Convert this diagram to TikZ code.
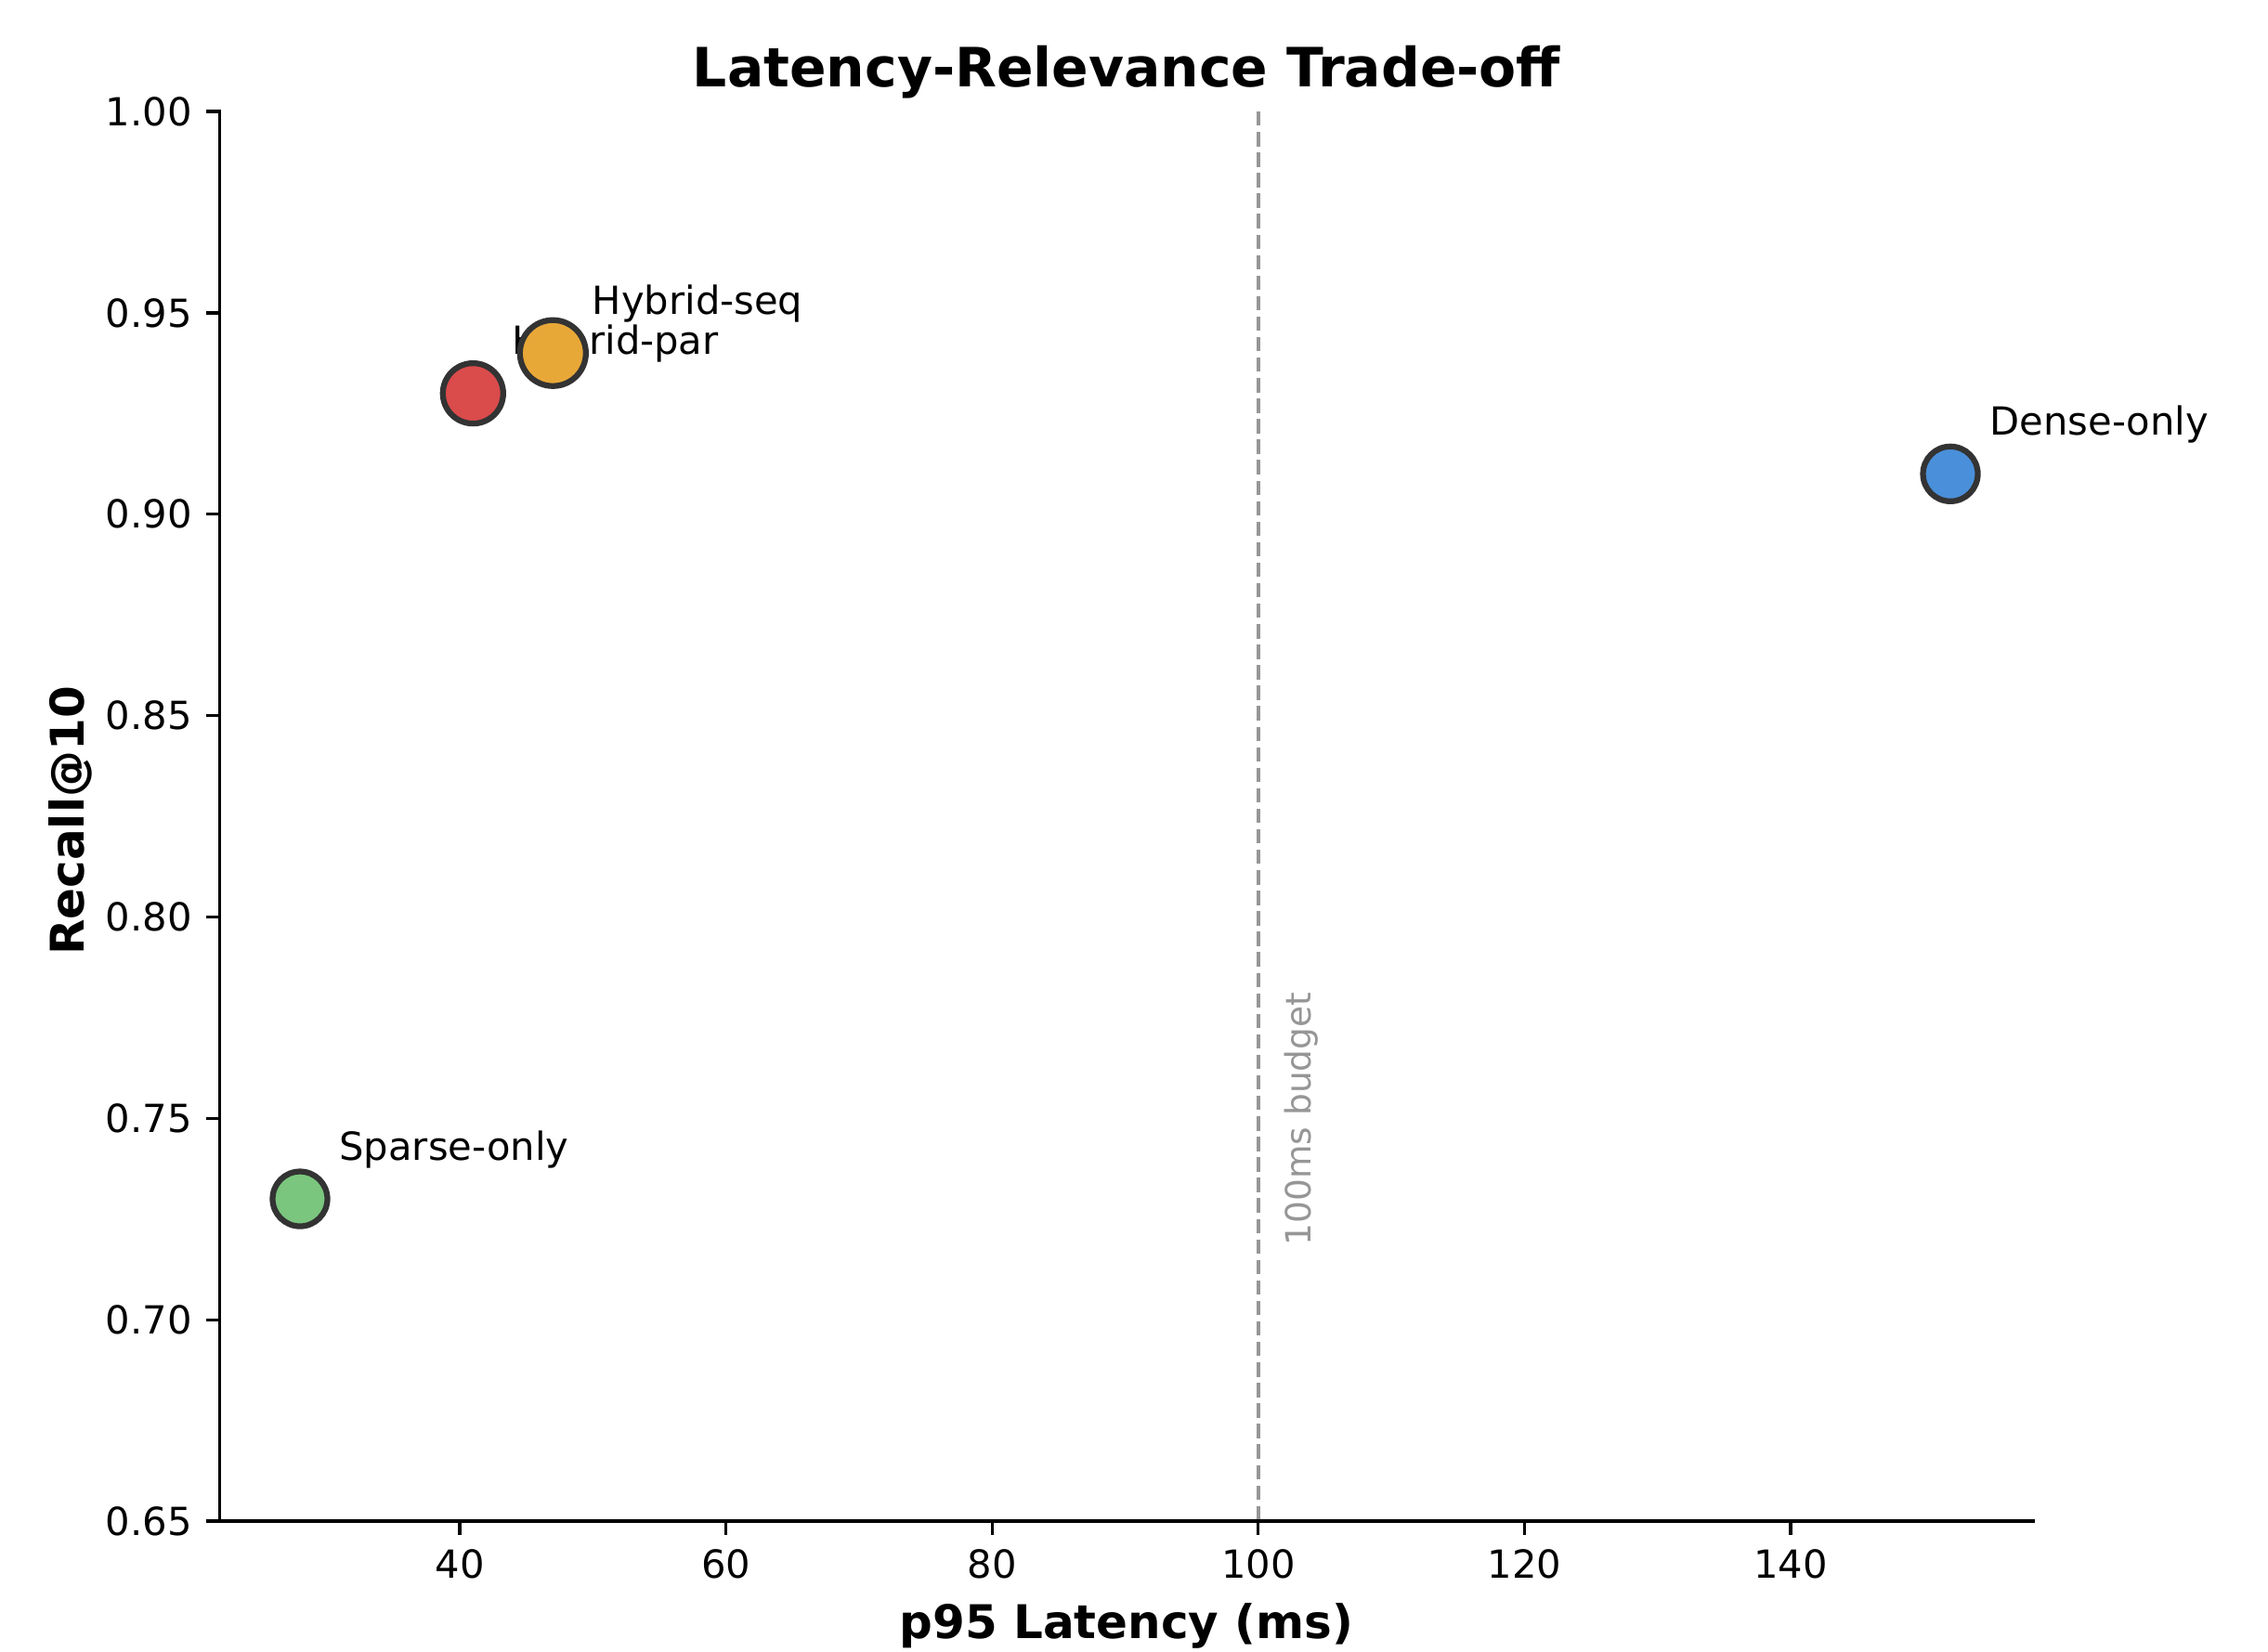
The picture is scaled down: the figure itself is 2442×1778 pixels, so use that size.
\documentclass[tikz,border=0pt]{standalone}
\usepackage{fontspec}
\setmainfont{DejaVu Sans}
\definecolor{ptred}{RGB}{218,75,75}
\definecolor{ptorange}{RGB}{232,168,56}
\definecolor{ptblue}{RGB}{74,143,217}
\definecolor{ptgreen}{RGB}{123,198,126}
\definecolor{ptedge}{RGB}{51,51,51}
\definecolor{budgetgray}{RGB}{150,150,150}
\tikzset{
  spine/.style={line width=0.8pt, black, line cap=rect},
  tickmark/.style={line width=0.8pt, black},
  ytick/.style={anchor=east, inner sep=0pt, font=\fontsize{10}{12}\selectfont},
  xtick/.style={anchor=north, inner sep=0pt, font=\fontsize{10}{12}\selectfont},
  ptlabel/.style={anchor=base west, inner sep=0pt, font=\fontsize{10}{12}\selectfont},
  marker/.style={circle, draw=ptedge, line width=1.5pt, inner sep=0pt},
  budget/.style={budgetgray, line width=1pt, dash pattern=on 3.7pt off 1.6pt},
}
\begin{document}
\begin{tikzpicture}[x=0.24pt, y=-0.24pt]
% canvas
\useasboundingbox (0,0) rectangle (2442,1778);
\fill[white] (0,0) rectangle (2442,1778);

% axes corners
\coordinate (orig) at (236.7,1638);
\coordinate (ytop) at (236.7,120);
\coordinate (xend) at (2189,1638);

% 100 ms budget line
\coordinate (btop) at (1354.8,120);
\coordinate (bbot) at (1354.8,1638);
\draw[budget] (btop) -- (bbot);
\node[rotate=90, anchor=north west, inner sep=0pt, text=budgetgray,
      font=\fontsize{9}{11}\selectfont] (budgettxt) at (1382,1342) {100ms budget};

% y ticks
\foreach \t [count=\i] in {0.65,0.70,0.75,0.80,0.85,0.90,0.95,1.00}{
  \pgfmathsetmacro{\yy}{1638-(\i-1)*216.86}
  \coordinate (yt\i) at (236.7,\yy);
  \draw[tickmark] (yt\i) -- ++(-14.6,0);
  \node[ytick] (ylab\i) at (207.5,\yy) {\t};
}
% x ticks
\foreach \v [count=\i] in {40,60,80,100,120,140}{
  \pgfmathsetmacro{\xx}{495+(\v-40)*14.33}
  \coordinate (xt\i) at (\xx,1638);
  \draw[tickmark] (xt\i) -- ++(0,14.6);
  \node[xtick] (xlab\i) at (\xx,1668) {\v};
}

% spines
\draw[spine] (ytop) -- (orig) -- (xend);

% point labels
\node[ptlabel] (lsparse) at (364.7,1249.3) {Sparse-only};
\node[ptlabel] (lpar) at (551.0,381.9) {Hybrid-par};
\node[ptlabel] (lseq) at (637.0,338.5) {Hybrid-seq};
\node[ptlabel] (ldense) at (2141.7,468.6) {Dense-only};

% markers
\node[marker, fill=ptgreen, minimum size=59*0.24pt] (sparse) at (323.0,1291.0) {};
\node[marker, fill=ptred, minimum size=65*0.24pt] (par) at (509.3,423.6) {};
\node[marker, fill=ptorange, minimum size=71*0.24pt] (seq) at (595.3,380.2) {};
\node[marker, fill=ptblue, minimum size=59*0.24pt] (dense) at (2100.0,510.3) {};

% titles
\node[anchor=base, inner sep=0pt, font=\fontsize{14}{17}\bfseries\selectfont] (title) at (1213,93) {Latency-Relevance Trade-off};
\node[anchor=base, inner sep=0pt, font=\fontsize{12}{14}\bfseries\selectfont] (xlabel) at (1213,1764) {p95 Latency (ms)};
\node[rotate=90, anchor=base, inner sep=0pt, font=\fontsize{12}{14}\bfseries\selectfont] (ylabel) at (90,884) {Recall@10};
\end{tikzpicture}
\end{document}
